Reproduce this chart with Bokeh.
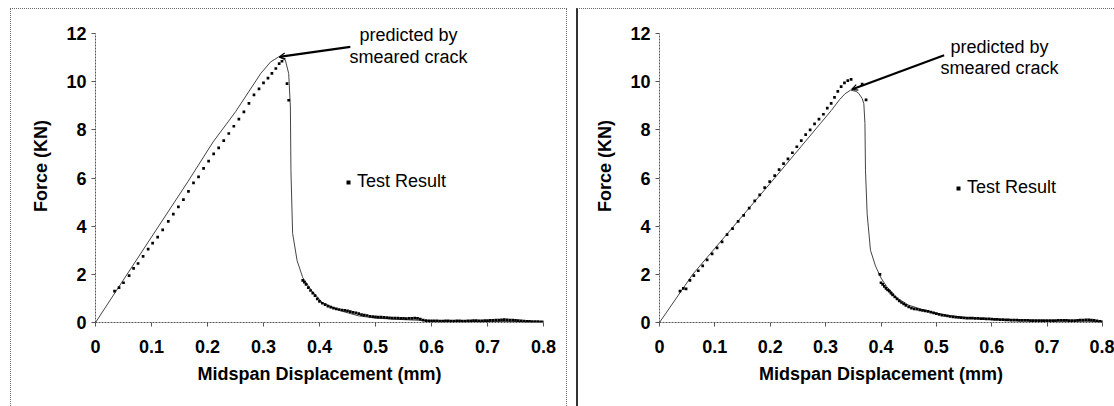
from bokeh.plotting import figure
from bokeh.layouts import row
from bokeh.models import (Range1d, FixedTicker, Label, Arrow, OpenHead, Legend,
                          LegendItem, InlineStyleSheet)
from bokeh.embed import file_html
from bokeh.resources import INLINE

# ---------------- data ----------------
x_ticks = [0, 0.1, 0.2, 0.3, 0.4, 0.5, 0.6, 0.7, 0.8]
x_tick_labels = ["0", "0.1", "0.2", "0.3", "0.4", "0.5", "0.6", "0.7", "0.8"]
y_ticks = [0, 2, 4, 6, 8, 10, 12]
y_tick_labels = ["0", "2", "4", "6", "8", "10", "12"]

x_title = "Midspan Displacement (mm)"
y_title = "Force (KN)"
note_lines = ["predicted by", "smeared crack"]
legend_text = "Test Result"

# left panel: smeared crack prediction
left_pred_x = [0, 0.1, 0.165, 0.21, 0.25, 0.295, 0.3125, 0.327, 0.339, 0.345, 0.348,
               0.349, 0.352, 0.36, 0.37, 0.386, 0.405, 0.437, 0.469, 0.5, 0.55, 0.6,
               0.7, 0.8]
left_pred_y = [0, 3.55, 5.85, 7.5, 8.75, 10.34, 10.82, 11.03, 10.9, 10.34, 8.95,
               6.3, 3.7, 2.57, 1.87, 1.32, 0.83, 0.49, 0.28, 0.18, 0.12, 0.07,
               0.05, 0.02]

# left panel: test result
left_test_x = [0.034, 0.042, 0.050, 0.060, 0.068, 0.076, 0.085, 0.094, 0.102, 0.111,
               0.120, 0.130, 0.139, 0.148, 0.157, 0.166, 0.175, 0.184, 0.193, 0.202,
               0.211, 0.220, 0.229, 0.238, 0.247, 0.256, 0.265, 0.274, 0.283, 0.292,
               0.300, 0.308, 0.315, 0.322, 0.328, 0.333, 0.342, 0.345,
               0.370, 0.373, 0.376, 0.380, 0.384, 0.388, 0.392, 0.396, 0.400, 0.405,
               0.410, 0.415, 0.420, 0.425, 0.430, 0.435, 0.440, 0.445, 0.450, 0.455,
               0.460, 0.465, 0.470, 0.475, 0.480, 0.485, 0.490, 0.495, 0.500, 0.505,
               0.510, 0.515, 0.520, 0.525, 0.530, 0.535, 0.540, 0.545, 0.550, 0.555,
               0.560, 0.565, 0.570, 0.575, 0.580, 0.585, 0.590, 0.595, 0.600, 0.605,
               0.610, 0.615, 0.620, 0.625, 0.630, 0.635, 0.640, 0.645, 0.650, 0.655,
               0.660, 0.665, 0.670, 0.675, 0.680, 0.685, 0.690, 0.695, 0.700, 0.705,
               0.710, 0.715, 0.720, 0.725, 0.730, 0.735, 0.740, 0.745, 0.750, 0.755,
               0.760, 0.765, 0.770, 0.775, 0.780, 0.785, 0.790, 0.795, 0.800]
left_test_y = [1.30, 1.45, 1.65, 1.95, 2.25, 2.45, 2.75, 3.05, 3.30, 3.55,
               3.85, 4.20, 4.50, 4.80, 5.10, 5.45, 5.80, 6.05, 6.40, 6.70,
               7.00, 7.25, 7.55, 7.85, 8.15, 8.45, 8.75, 9.10, 9.45, 9.70,
               9.95, 10.15, 10.35, 10.55, 10.75, 10.85, 9.92, 9.23,
               1.75, 1.68, 1.58, 1.45, 1.33, 1.22, 1.12, 0.98, 0.88, 0.80,
               0.74, 0.68, 0.64, 0.60, 0.57, 0.54, 0.52, 0.50, 0.48, 0.45,
               0.42, 0.40, 0.37, 0.33, 0.31, 0.29, 0.26, 0.24, 0.23, 0.22,
               0.22, 0.21, 0.20, 0.19, 0.18, 0.18, 0.18, 0.17, 0.17, 0.16,
               0.17, 0.17, 0.18, 0.17, 0.14, 0.10, 0.08, 0.07, 0.07, 0.07,
               0.07, 0.06, 0.06, 0.07, 0.07, 0.06, 0.06, 0.07, 0.07, 0.06,
               0.06, 0.07, 0.07, 0.08, 0.08, 0.07, 0.07, 0.08, 0.08, 0.09,
               0.09, 0.10, 0.10, 0.11, 0.12, 0.11, 0.10, 0.10, 0.09, 0.08,
               0.07, 0.06, 0.05, 0.05, 0.04, 0.04, 0.04, 0.03, 0.03]

# right panel: smeared crack prediction
right_pred_x = [0, 0.06, 0.134, 0.208, 0.29, 0.31, 0.325, 0.335, 0.345, 0.355, 0.36,
                0.366, 0.369, 0.371, 0.372, 0.375, 0.381, 0.39, 0.4, 0.41, 0.43,
                0.45, 0.48, 0.5, 0.55, 0.6, 0.7, 0.8]
right_pred_y = [0, 2.0, 4.0, 6.0, 8.25, 8.8, 9.25, 9.5, 9.65, 9.6, 9.51,
                9.3, 9.09, 8.26, 6.3, 4.5, 3.0, 2.35, 1.85, 1.5, 1.0,
                0.72, 0.5, 0.38, 0.2, 0.13, 0.08, 0.04]

# right panel: test result
right_test_x = [0.037, 0.043, 0.048, 0.055, 0.062, 0.070, 0.078, 0.086, 0.095, 0.104,
                0.113, 0.122, 0.132, 0.142, 0.152, 0.162, 0.172, 0.181, 0.190, 0.199,
                0.208, 0.216, 0.224, 0.232, 0.240, 0.248, 0.256, 0.264, 0.272, 0.280,
                0.288, 0.296, 0.303, 0.310, 0.316, 0.322, 0.328, 0.334, 0.340, 0.346,
                0.366, 0.373,
                0.398, 0.400, 0.403, 0.406, 0.409, 0.412, 0.415, 0.418, 0.421, 0.425,
                0.429, 0.433, 0.437, 0.441, 0.445, 0.450, 0.455, 0.460, 0.465, 0.470,
                0.475, 0.480, 0.485, 0.490, 0.495, 0.500, 0.505, 0.510, 0.515, 0.520,
                0.525, 0.530, 0.535, 0.540, 0.545, 0.550, 0.555, 0.560, 0.565, 0.570,
                0.575, 0.580, 0.585, 0.590, 0.595, 0.600, 0.605, 0.610, 0.615, 0.620,
                0.625, 0.630, 0.635, 0.640, 0.645, 0.650, 0.655, 0.660, 0.665, 0.670,
                0.675, 0.680, 0.685, 0.690, 0.695, 0.700, 0.705, 0.710, 0.715, 0.720,
                0.725, 0.730, 0.735, 0.740, 0.745, 0.750, 0.755, 0.760, 0.765, 0.770,
                0.775, 0.780, 0.785, 0.790, 0.795, 0.800]
right_test_y = [1.30, 1.42, 1.40, 1.75, 1.95, 2.15, 2.35, 2.60, 2.85, 3.10,
                3.35, 3.65, 3.90, 4.20, 4.45, 4.75, 5.05, 5.30, 5.60, 5.85,
                6.10, 6.35, 6.60, 6.80, 7.05, 7.30, 7.55, 7.80, 8.00, 8.25,
                8.45, 8.65, 8.90, 9.10, 9.35, 9.60, 9.80, 9.95, 10.05, 10.10,
                9.90, 9.25,
                2.00, 1.65, 1.58, 1.50, 1.42, 1.35, 1.30, 1.22, 1.15, 1.06,
                0.98, 0.90, 0.83, 0.77, 0.71, 0.65, 0.60, 0.57, 0.55, 0.52,
                0.50, 0.48, 0.46, 0.43, 0.40, 0.37, 0.34, 0.31, 0.29, 0.27,
                0.25, 0.23, 0.22, 0.21, 0.20, 0.19, 0.18, 0.18, 0.18, 0.17,
                0.17, 0.16, 0.16, 0.15, 0.15, 0.14, 0.13, 0.13, 0.12, 0.12,
                0.11, 0.11, 0.10, 0.10, 0.10, 0.09, 0.09, 0.09, 0.09, 0.08,
                0.08, 0.08, 0.08, 0.08, 0.08, 0.08, 0.08, 0.08, 0.08, 0.09,
                0.09, 0.09, 0.09, 0.08, 0.08, 0.08, 0.09, 0.10, 0.10, 0.11,
                0.11, 0.10, 0.09, 0.07, 0.05, 0.04]

FONT = "Liberation Sans"


def make_panel(width, border_left, border_right, pred_x, pred_y, test_x, test_y,
               note_x, note_y, arrow_from, arrow_to, legend_loc, css):
    # y range extends above 12 so that the notes are not clipped; axis stops at 12
    p = figure(width=width, height=406, x_range=Range1d(0, 0.8), y_range=Range1d(0, 13),
               output_backend="svg", toolbar_location=None,
               min_border_left=border_left, min_border_right=border_right,
               min_border_top=9, min_border_bottom=84)
    p.stylesheets = [InlineStyleSheet(css=css)]
    p.background_fill_color = "white"
    p.border_fill_color = "white"
    p.outline_line_color = None
    p.xgrid.visible = False
    p.ygrid.visible = False

    p.xaxis.ticker = FixedTicker(ticks=x_ticks)
    p.yaxis.ticker = FixedTicker(ticks=y_ticks)
    p.xaxis.bounds = (x_ticks[0], x_ticks[-1])
    p.yaxis.bounds = (y_ticks[0], y_ticks[-1])
    p.xaxis.major_label_overrides = dict(zip(x_ticks, x_tick_labels))
    p.yaxis.major_label_overrides = dict(zip(y_ticks, y_tick_labels))
    p.xaxis.axis_label = x_title
    p.yaxis.axis_label = y_title
    for ax in (p.xaxis, p.yaxis):
        ax.major_label_text_font = FONT
        ax.major_label_text_font_style = "bold"
        ax.major_label_text_font_size = "18px"
        ax.major_label_text_color = "black"
        ax.axis_label_text_font = FONT
        ax.axis_label_text_font_style = "bold"
        ax.axis_label_text_font_size = "18px"
        ax.axis_label_text_color = "black"
        ax.axis_line_color = "#555555"
        ax.axis_line_dash = "2 1"
        ax.major_tick_line_color = "#555555"
        ax.major_tick_out = 4
        ax.major_tick_in = 0
        ax.minor_tick_line_color = None
    p.yaxis.major_label_standoff = 5
    p.yaxis.axis_label_standoff = 12
    p.xaxis.major_label_standoff = 13
    p.xaxis.axis_label_standoff = 8

    p.line(pred_x, pred_y, line_color="#444444", line_width=1)
    pts = p.scatter(test_x, test_y, marker="square", size=2.7, line_color=None,
                    fill_color="black")

    for txt, ny in zip(note_lines, note_y):
        p.add_layout(Label(x=note_x, y=ny, text=txt, text_align="center",
                           text_baseline="middle", text_font=FONT,
                           text_font_size="18px", text_color="black"))
    p.add_layout(Arrow(x_start=arrow_from[0], y_start=arrow_from[1],
                       x_end=arrow_to[0], y_end=arrow_to[1],
                       line_width=2.2, line_color="black",
                       end=OpenHead(size=6, line_width=1.2, line_color="black")))

    legend = Legend(items=[LegendItem(label=legend_text, renderers=[pts])],
                    location=legend_loc, glyph_width=10, glyph_height=20,
                    label_standoff=4, padding=0, margin=0, spacing=0,
                    border_line_color=None, background_fill_alpha=0,
                    label_text_font=FONT, label_text_font_size="18px",
                    label_text_color="black")
    p.add_layout(legend, "center")
    return p


css_left = (":host{position:relative;}"
            ":host::after{content:'';position:absolute;left:10px;top:8px;right:5px;"
            "bottom:-10px;border:1px dotted #6a6a6a;pointer-events:none;}")
css_right = (":host{position:relative;}"
             ":host::after{content:'';position:absolute;left:4px;top:8px;right:-10px;"
             "bottom:-10px;border-top:1px dotted #6a6a6a;border-left:2px solid #333;"
             "pointer-events:none;}")

p1 = make_panel(572, 95, 29, left_pred_x, left_pred_y, left_test_x, left_test_y,
                0.559, [11.93, 11.02], (0.455, 11.45), (0.328, 11.03), (248, 130),
                css_left)
p2 = make_panel(542, 87, 12, right_pred_x, right_pred_y, right_test_x, right_test_y,
                0.614, [11.43, 10.56], (0.514, 11.1), (0.347, 9.68), (294, 124),
                css_right)

layout = row(p1, p2)
open("out.html", "w").write(file_html(layout, INLINE))
